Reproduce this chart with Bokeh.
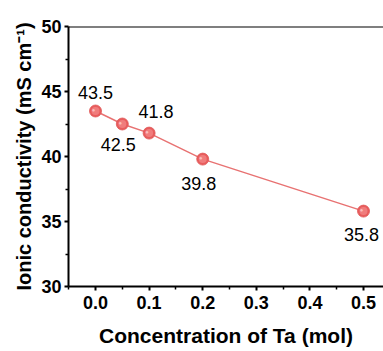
from bokeh.plotting import figure
from bokeh.models import Range1d, Span, ColumnDataSource, FixedTicker
from bokeh.core.properties import value
from bokeh.embed import file_html
from bokeh.resources import INLINE

# Ionic conductivity versus Ta content
ta_mol = [0.0, 0.05, 0.1, 0.2, 0.5]
conductivity = [43.5, 42.5, 41.8, 39.8, 35.8]
labels = ["43.5", "42.5", "41.8", "39.8", "35.8"]
# label placement: screen offsets (px) relative to each point
label_dx = [0, -4, 7, -4, -2]
label_dy = [-19, 20, -22, 24, 23]

x_ticks = [0.0, 0.1, 0.2, 0.3, 0.4, 0.5]
y_ticks = [30, 35, 40, 45, 50]

FONT = "Liberation Sans"

p = figure(width=383, height=351, output_backend="svg", toolbar_location=None,
           x_range=Range1d(-0.0504, 0.5373), y_range=Range1d(30, 50),
           min_border_left=68, min_border_right=0, min_border_top=26,
           min_border_bottom=65)
p.outline_line_color = None
p.grid.visible = False
p.background_fill_color = "white"
p.border_fill_color = "white"

# top frame line
p.add_layout(Span(location=50, dimension="width", line_color="black", line_width=2))

for ax in (p.xaxis[0], p.yaxis[0]):
    ax.axis_line_width = 2
    ax.axis_line_color = "black"
    ax.major_tick_line_width = 2
    ax.minor_tick_line_width = 1.5
    ax.major_tick_out = 4
    ax.major_tick_in = 0
    ax.minor_tick_out = 3
    ax.minor_tick_in = 0
    ax.major_label_text_font = FONT
    ax.major_label_text_font_style = "bold"
    ax.major_label_text_font_size = "18px"
    ax.major_label_text_color = "black"
    ax.axis_label_text_font = FONT
    ax.axis_label_text_font_style = "bold"
    ax.axis_label_text_color = "black"

p.xaxis.ticker = FixedTicker(ticks=x_ticks, minor_ticks=[0.05 + 0.1 * i for i in range(-1, 6)])
p.yaxis.ticker = FixedTicker(ticks=y_ticks, minor_ticks=[32.5, 37.5, 42.5, 47.5])
p.xaxis.major_label_overrides = {t: f"{t:.1f}" for t in x_ticks}
p.xaxis.axis_label = "Concentration of Ta (mol)"
p.yaxis.axis_label = "Ionic conductivity (mS cm\u207b\u00b9)"
p.xaxis.axis_label_text_font_size = "21px"
p.yaxis.axis_label_text_font_size = "20px"
p.xaxis.major_label_standoff = 5
p.yaxis.major_label_standoff = 3
p.xaxis.axis_label_standoff = 12
p.yaxis.axis_label_standoff = 3

src = ColumnDataSource(dict(x=ta_mol, y=conductivity, t=labels, dx=label_dx, dy=label_dy))

p.line("x", "y", source=src, line_color="#e87272", line_width=1.5)
p.scatter("x", "y", source=src, size=12, fill_color="#e85c5c", line_color="#e05858", line_width=0.8)
p.scatter("x", "y", source=src, size=8, fill_color="#f07c7c", line_color=None)
p.text("x", "y", text=value("\u25cf"), source=src, x_offset=-2, y_offset=-1,
       text_font_size="6px", text_color="#fbbcbc", text_align="center", text_baseline="middle")

p.text("x", "y", text="t", source=src, x_offset="dx", y_offset="dy",
       text_font=value(FONT), text_font_size="18px", text_color="black",
       text_align="center", text_baseline="middle")

open("out.html", "w").write(file_html(p, INLINE))
